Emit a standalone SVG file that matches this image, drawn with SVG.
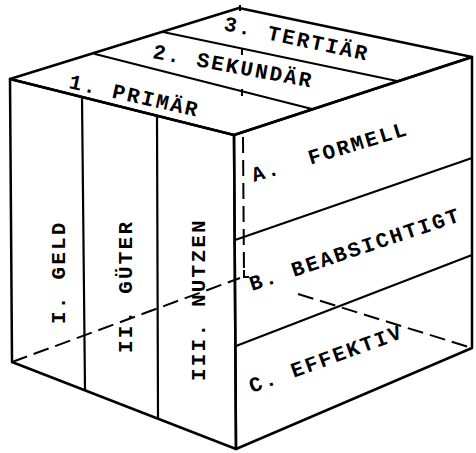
<svg xmlns="http://www.w3.org/2000/svg" width="476" height="453" viewBox="0 0 476 453">
<style>
.edge{fill:none;stroke:#000;stroke-width:2.5;stroke-linejoin:round;stroke-linecap:round}
.div{fill:none;stroke:#000;stroke-width:2.2;stroke-linecap:round}
.hid{fill:none;stroke:#000;stroke-width:2;stroke-dasharray:16 7}
.tick{fill:none;stroke:#000;stroke-width:2}
.lbl{font-family:"Liberation Mono","DejaVu Sans Mono",monospace;font-size:21px;font-weight:bold;letter-spacing:2.2px;fill:#000}
</style>
<rect width="476" height="453" fill="#fff"/>
<g id="connectors">
  <g id="hidden-edges">
    <line class="hid" x1="243" y1="137" x2="244" y2="274"/>
    <line class="hid" x1="12" y1="362" x2="240" y2="278"/>
    <line class="hid" x1="298" y1="294" x2="472" y2="348"/>
    <path class="tick" d="M244 270 V277 H249"/>
    <line class="tick" x1="240" y1="5" x2="240" y2="11"/>
    <line class="tick" x1="242" y1="49" x2="242" y2="55"/>
    <line class="tick" x1="242" y1="89" x2="242" y2="96"/>
  </g>
  <g id="cube-outline">
    <polygon class="edge" points="10,79 239,8 472,57 234,135"/>
    <polygon class="edge" points="10,79 234,135 236,449 12,362"/>
    <polygon class="edge" points="234,135 472,57 472,348 236,449"/>
  </g>
  <g id="dividers">
    <line class="div" x1="95" y1="54" x2="312" y2="109"/>
    <line class="div" x1="163" y1="32" x2="397" y2="81"/>
    <line class="div" x1="82" y1="97" x2="85" y2="390"/>
    <line class="div" x1="157" y1="116" x2="158" y2="418"/>
    <line class="div" x1="235" y1="240" x2="472" y2="158"/>
    <line class="div" x1="236" y1="346" x2="472" y2="255"/>
  </g>
</g>
<g id="primaer"><text class="lbl" transform="translate(68,88) rotate(12.5)">1. PRIMÄR</text></g>
<g id="sekundaer"><text class="lbl" transform="translate(152,58) rotate(10.5)">2. SEKUNDÄR</text></g>
<g id="tertiaer"><text class="lbl" transform="translate(223,30) rotate(12)">3. TERTIÄR</text></g>
<g id="formell"><text class="lbl" transform="translate(254,182) rotate(-17)">A.<tspan dx="14.8"> FORMELL</tspan></text></g>
<g id="beabsichtigt"><text class="lbl" transform="translate(252,291) rotate(-18.5)">B. BEABSICHTIGT</text></g>
<g id="effektiv"><text class="lbl" transform="translate(252,393) rotate(-20)">C. EFFEKTIV</text></g>
<g id="geld"><text class="lbl" transform="translate(65,324) rotate(-90)">I. GELD</text></g>
<g id="gueter"><text class="lbl" transform="translate(132,353) rotate(-90)">II. GÜTER</text></g>
<g id="nutzen"><text class="lbl" transform="translate(205,381) rotate(-90)">III. NUTZEN</text></g>
</svg>
